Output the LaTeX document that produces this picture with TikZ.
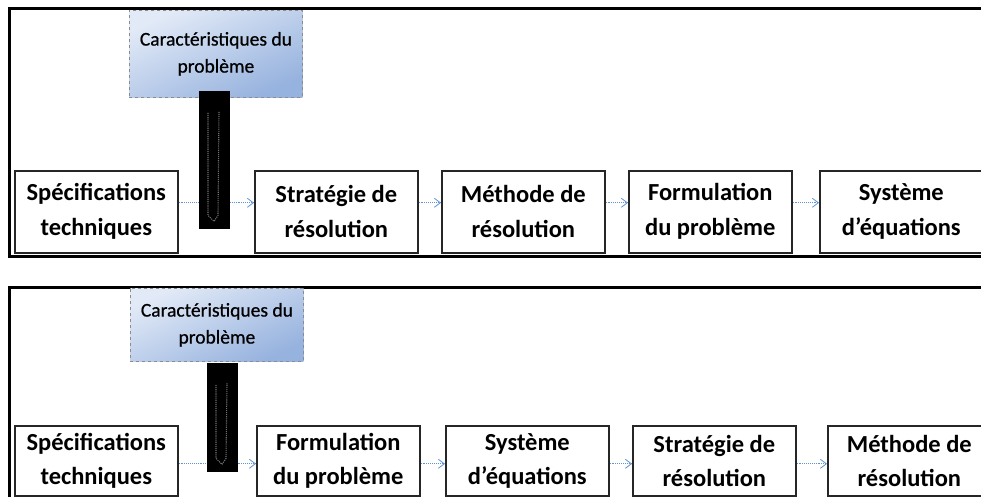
\documentclass[tikz,border=0pt]{standalone}
\usepackage{fontspec}
\setmainfont{Carlito}
\newfontfamily\calloutfont[FakeBold=0.7]{Carlito}
\usetikzlibrary{arrows.meta}
\definecolor{flowblue}{RGB}{96,146,212}
\definecolor{calltop}{RGB}{226,234,247}
\definecolor{callbot}{RGB}{150,178,222}
\tikzset{
  panel/.style={draw=black, line width=3pt},
  stepbox/.style={draw=black!85, line width=1.6pt, fill=white, minimum width=163pt,
    minimum height=82pt, inner sep=0pt, anchor=north west, align=center,
    font=\fontsize{24.5}{35}\selectfont\bfseries},
  lowbox/.style={stepbox, minimum height=70pt,
    font=\fontsize{24.5}{34}\selectfont\bfseries},
  callout/.style={draw=black!45, dashed, line width=0.8pt, minimum width=173pt,
    minimum height=87pt, inner sep=0pt, anchor=north west, align=center,
    top color=calltop, bottom color=callbot, shading angle=25,
    font=\calloutfont\fontsize{19.5}{27}\selectfont},
  blot/.style={fill=black, draw=none, minimum width=31pt, minimum height=138pt,
    inner sep=0pt, anchor=north west},
  flow/.style={flowblue, densely dotted, line width=0.9pt,
    -{Straight Barb[length=6pt,width=9pt,line width=0.8pt]}},
  trace/.style={black!55, densely dotted, line width=1.1pt},
}
\begin{document}
\begin{tikzpicture}[x=1pt,y=-1pt]
\clip (0,0) rectangle (981,497);
\fill[white] (0,0) rectangle (981,497);

% upper frame
\draw[panel] (9,9) rectangle (1010,256);
% lower frame
\draw[panel] (9,287) rectangle (1010,530);

% ---------- upper sequence ----------
\node[callout] (u0) at (129,10) {Caractéristiques du\\problème};
\node[stepbox] (u1) at (14,170)  {Spécifications\\techniques};
\node[stepbox] (u2) at (254,170) {Stratégie de\\résolution};
\node[stepbox] (u3) at (441,170) {Méthode de\\résolution};
\node[stepbox] (u4) at (628,170) {Formulation\\du problème};
\node[stepbox] (u5) at (819,170) {Système\\d’équations};

\draw[flow] ([yshift=9pt]u1.east) -- ([yshift=9pt]u2.west);
\draw[flow] ([yshift=9pt]u2.east) -- ([yshift=9pt]u3.west);
\draw[flow] ([yshift=9pt]u3.east) -- ([yshift=9pt]u4.west);
\draw[flow] ([yshift=9pt]u4.east) -- ([yshift=9pt]u5.west);

\node[blot] (ub) at (199,91) {};
\draw[trace] ([xshift=9pt,yshift=-22pt]ub.north west) -- ([xshift=9pt,yshift=14pt]ub.south west)
  -- ([xshift=15pt,yshift=8pt]ub.south west) -- ([xshift=19pt,yshift=14pt]ub.south west)
  -- ([xshift=20pt,yshift=-20pt]ub.north west);

% ---------- lower sequence ----------
\node[callout, minimum height=73pt] (l0) at (130,288) {Caractéristiques du\\problème};
\node[lowbox] (l1) at (14,425)  {Spécifications\\techniques};
\node[lowbox] (l2) at (256,425) {Formulation\\du problème};
\node[lowbox] (l3) at (445,425) {Système\\d’équations};
\node[lowbox] (l4) at (632,425) {Stratégie de\\résolution};
\node[lowbox] (l5) at (827,425) {Méthode de\\résolution};
% the boxes run on below the lower edge
\draw[draw=black!85, line width=1.6pt] (l1.south west) -- ++(0,14) (l1.south east) -- ++(0,14)
  (l2.south west) -- ++(0,14) (l2.south east) -- ++(0,14)
  (l3.south west) -- ++(0,14) (l3.south east) -- ++(0,14)
  (l4.south west) -- ++(0,14) (l4.south east) -- ++(0,14)
  (l5.south west) -- ++(0,14);

\draw[flow] ([yshift=-3pt]l1.east) -- ([yshift=-3pt]l2.west);
\draw[flow] ([yshift=-3pt]l2.east) -- ([yshift=-3pt]l3.west);
\draw[flow] ([yshift=-3pt]l3.east) -- ([yshift=-3pt]l4.west);
\draw[flow] ([yshift=-3pt]l4.east) -- ([yshift=-3pt]l5.west);

\node[blot, minimum height=109pt] (lb) at (207,363) {};
\draw[trace] ([xshift=9pt,yshift=-22pt]lb.north west) -- ([xshift=9pt,yshift=14pt]lb.south west)
  -- ([xshift=15pt,yshift=8pt]lb.south west) -- ([xshift=19pt,yshift=14pt]lb.south west)
  -- ([xshift=20pt,yshift=-20pt]lb.north west);
\end{tikzpicture}
\end{document}
